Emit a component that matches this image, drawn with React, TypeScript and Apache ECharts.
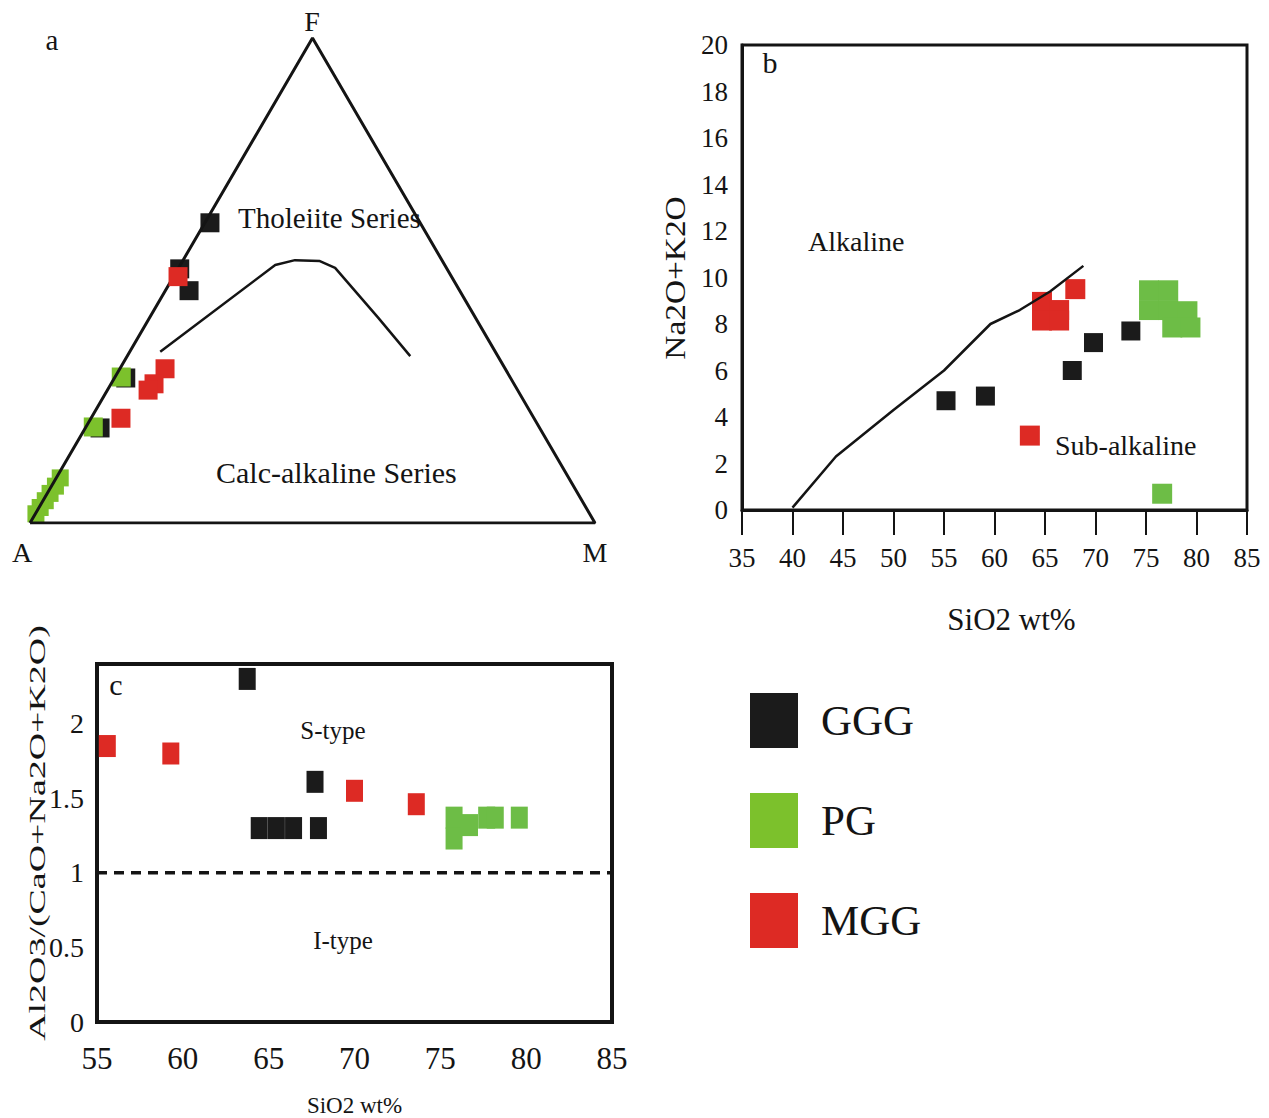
import React, { useEffect, useRef } from 'react';
import * as echarts from 'echarts';

const FONT = 'Liberation Serif';
const INK = '#141414';
const BLACK = '#1b1b1b';
const GREEN = '#7cc12c';
const GREEN2 = '#6dbd46';
const RED = '#dd2a24';

// ---------- Panel a : AFM ternary, triples are [A, F, M] ----------
const afmFrame = [[100, 0, 0], [0, 100, 0], [0, 0, 100], [100, 0, 0]];
const afmBoundary = [[59.3, 35.3, 5.4], [30.0, 53.2, 16.8], [26.0, 54.2, 19.8], [21.7, 54.0, 24.3], [19.7, 52.6, 27.7], [17.2, 42.3, 40.5], [15.5, 34.4, 50.1]];
const afmGGG = [[37.2, 61.9, 0.9], [47.3, 52.4, 0.3], [47.9, 47.9, 4.2], [68.1, 29.9, 2.0], [77.8, 19.6, 2.6]];
const afmPG = [[68.8, 30.1, 1.1], [78.9, 19.8, 1.3]];
const afmPGCluster = [[90.0, 9.3, 0.7], [91.7, 7.6, 0.7], [93.4, 6.1, 0.5], [95.0, 4.6, 0.4], [96.6, 3.2, 0.2], [98.0, 1.9, 0.1]];
const afmMGG = [[48.4, 50.8, 0.8], [60.2, 31.8, 8.0], [63.7, 28.7, 7.6], [65.4, 27.4, 7.2], [73.1, 21.6, 5.3]];

// ---------- Panel b : Na2O+K2O vs SiO2 ----------
const tasBoundary = [[40, 0.1], [44.3, 2.3], [50, 4.3], [55, 6.0], [59.6, 8.0], [62.5, 8.6], [65.5, 9.4], [68.8, 10.5]];
const tasGGG = [[55.2, 4.7], [59.1, 4.9], [67.7, 6.0], [69.8, 7.2], [73.5, 7.7]];
const tasPG = [[75.3, 9.45], [77.2, 9.45], [75.3, 8.6], [77.2, 8.6], [79.1, 8.55], [77.6, 7.85], [79.4, 7.85], [76.6, 0.7]];
const tasMGG = [[64.7, 8.95], [64.7, 8.15], [66.4, 8.6], [66.4, 8.15], [68.0, 9.5], [63.5, 3.2]];

// ---------- Panel c : A/CNK vs SiO2 ----------
const acnkBoundary = [[55, 1], [85, 1]];
const acnkGGG = [[63.75, 2.30], [64.45, 1.30], [65.45, 1.30], [66.45, 1.30], [67.9, 1.30], [67.7, 1.61]];
const acnkPG = [[75.8, 1.37], [75.8, 1.23], [76.7, 1.32], [77.7, 1.37], [78.2, 1.37], [79.6, 1.37]];
const acnkMGG = [[55.6, 1.85], [59.3, 1.80], [70.0, 1.55], [73.6, 1.46]];

const seriesNames = ['GGG', 'PG', 'MGG'];

const SQ3 = Math.sqrt(3) / 2;
function tern(t: number[]) {
  const [a, f, m] = t;
  const s = a + f + m;
  return [((m + f / 2) / s) * 100, (f / s) * 100 * SQ3];
}

export default function App() {
  const ref = useRef<HTMLDivElement>(null);
  useEffect(() => {
    document.body.style.margin = '0';
    const chart = echarts.init(ref.current!, null, { renderer: 'svg' });
    const txt = (text: string, x: number, y: number, size: number, align = 'center', extra: any = {}) => ({
      type: 'text',
      x,
      y,
      ...extra,
      style: { text, fill: INK, font: `${size}px ${FONT}`, textAlign: align, textVerticalAlign: 'middle' },
    });
    const scatter = (name: string, data: number[][], color: string, idx: number, size: any, z = 3) => ({
      type: 'scatter',
      name,
      xAxisIndex: idx,
      yAxisIndex: idx,
      data,
      symbol: 'rect',
      symbolSize: size,
      itemStyle: { color, opacity: 1 },
      z,
      silent: true,
    });
    const lineS = (data: number[][], idx: number, width: number, dashed: any = 'solid', z = 5) => ({
      type: 'line',
      xAxisIndex: idx,
      yAxisIndex: idx,
      data,
      symbol: 'none',
      lineStyle: { color: INK, width, type: dashed },
      z,
      silent: true,
    });
    const option: any = {
      animation: false,
      backgroundColor: '#ffffff',
      textStyle: { fontFamily: FONT, color: INK },
      grid: [
        { left: 30, top: 38, width: 565, height: 485, show: false },
        { left: 742, top: 45, width: 505, height: 465, show: true, borderColor: INK, borderWidth: 3, backgroundColor: 'transparent' },
        { left: 97, top: 664, width: 515, height: 358, show: true, borderColor: INK, borderWidth: 4, backgroundColor: 'transparent' },
      ],
      xAxis: [
        { gridIndex: 0, type: 'value', min: 0, max: 100, show: false },
        {
          gridIndex: 1, type: 'value', min: 35, max: 85, interval: 5,
          axisLine: { show: true, lineStyle: { color: INK, width: 3 } },
          axisTick: { show: true, length: 25, lineStyle: { color: INK, width: 2 } },
          axisLabel: { margin: 34, fontSize: 27, fontFamily: FONT, color: INK },
          splitLine: { show: false },
          name: 'SiO2 wt%', nameLocation: 'middle', nameGap: 94,
          nameTextStyle: { fontSize: 31, fontFamily: FONT, color: INK, padding: [0, 0, 0, 34] },
        },
        {
          gridIndex: 2, type: 'value', min: 55, max: 85, interval: 5,
          axisLine: { show: true, lineStyle: { color: INK, width: 4 } },
          axisTick: { show: false },
          axisLabel: { margin: 21, fontSize: 31, fontFamily: FONT, color: INK },
          splitLine: { show: false },
          name: 'SiO2 wt%', nameLocation: 'middle', nameGap: 72,
          nameTextStyle: { fontSize: 23, fontFamily: FONT, color: INK },
        },
      ],
      yAxis: [
        { gridIndex: 0, type: 'value', min: 0, max: 100 * SQ3, show: false },
        {
          gridIndex: 1, type: 'value', min: 0, max: 20, interval: 2,
          axisLine: { show: true, lineStyle: { color: INK, width: 3 } },
          axisTick: { show: false },
          axisLabel: { margin: 14, fontSize: 27, fontFamily: FONT, color: INK },
          splitLine: { show: false },
        },
        {
          gridIndex: 2, type: 'value', min: 0, max: 2.4, interval: 0.5,
          axisLine: { show: true, lineStyle: { color: INK, width: 4 } },
          axisTick: { show: false },
          axisLabel: { margin: 13, fontSize: 28, fontFamily: FONT, color: INK, showMaxLabel: false },
          splitLine: { show: false },
        },
      ],
      legend: {
        data: seriesNames,
        orient: 'vertical',
        left: 745,
        top: 688,
        icon: 'rect',
        itemWidth: 48,
        itemHeight: 55,
        itemGap: 45,
        selectedMode: false,
        textStyle: { fontSize: 43, fontFamily: FONT, color: INK, padding: [0, 0, 0, 18] },
      },
      series: [
        lineS(afmFrame.map(tern), 0, 3),
        lineS(afmBoundary.map(tern), 0, 2.5),
        scatter(seriesNames[0], afmGGG.map(tern), BLACK, 0, 19),
        scatter(seriesNames[1], afmPG.map(tern), GREEN, 0, 19, 4),
        scatter(seriesNames[1], afmPGCluster.map(tern), GREEN, 0, 17, 4),
        scatter(seriesNames[2], afmMGG.map(tern), RED, 0, 19, 6),

        scatter(seriesNames[0], tasGGG, BLACK, 1, 19),
        scatter(seriesNames[1], tasPG, GREEN2, 1, 20),
        scatter(seriesNames[2], tasMGG, RED, 1, 20),
        lineS(tasBoundary, 1, 2.5, 'solid', 8),

        scatter(seriesNames[0], acnkGGG, BLACK, 2, [17, 22]),
        scatter(seriesNames[1], acnkPG, GREEN2, 2, [17, 22]),
        scatter(seriesNames[2], acnkMGG, RED, 2, [17, 22]),
        lineS(acnkBoundary, 2, 3.5, [10, 7]),
      ],
      graphic: [
        txt('a', 52, 40, 29),
        txt('F', 312, 21, 28),
        txt('A', 22, 552, 28),
        txt('M', 595, 552, 28),
        txt('Tholeiite Series', 238, 218, 29, 'left'),
        txt('Calc-alkaline Series', 216, 472, 30, 'left'),
        txt('b', 770, 62, 30),
        txt('Alkaline', 808, 241, 28, 'left'),
        txt('Sub-alkaline', 1055, 445, 28, 'left'),
        txt('Na2O+K2O', 675, 278, 29, 'center', { rotation: Math.PI / 2, scaleX: 1.15 }),
        txt('c', 116, 684, 30),
        txt('S-type', 333, 730, 25),
        txt('I-type', 343, 940, 25),
        txt('Al2O3/(CaO+Na2O+K2O)', 37, 833, 23, 'center', { rotation: Math.PI / 2, scaleX: 1.65 }),
      ],
    };
    chart.setOption(option);
    return () => chart.dispose();
  }, []);
  return <div ref={ref} style={{ width: 1269, height: 1118 }} />;
}
